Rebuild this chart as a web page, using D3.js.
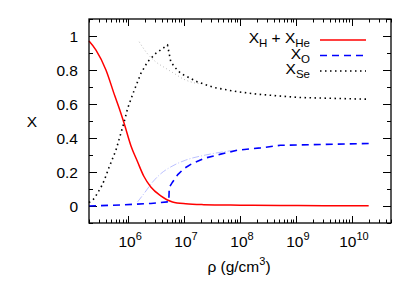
<!DOCTYPE html>
<html>
<head>
<meta charset="utf-8">
<script src="https://cdn.jsdelivr.net/npm/d3@7"></script>
<style>
  body { margin: 0; background: #fff; }
  text { font-family: "Liberation Sans", Arial, sans-serif; fill: #000; }
</style>
</head>
<body>
<div id="chart"></div>
<script>
// values, x given as log10(rho)
const hheLog = [5.301, 5.426, 5.604, 5.765, 5.841, 5.93, 6.05, 6.169, 6.281, 6.406, 6.584, 6.793, 7.03, 7.35, 8.0, 8.72, 9.5, 10.3];
const hheVal = [0.97, 0.917, 0.80, 0.645, 0.575, 0.485, 0.355, 0.26, 0.175, 0.112, 0.06, 0.024, 0.013, 0.008, 0.005, 0.003, 0.002, 0.002];

const oLog = [5.301, 5.87, 6.406, 6.704, 6.727, 6.736, 6.793, 6.888, 7.0, 7.12, 7.356, 7.654, 7.952, 8.367, 8.724, 9.437, 10.3];
const oVal = [0.0, 0.006, 0.015, 0.024, 0.024, 0.11, 0.14, 0.185, 0.22, 0.245, 0.28, 0.305, 0.328, 0.342, 0.357, 0.362, 0.368];

const seLog = [5.301, 5.395, 5.515, 5.574, 5.663, 5.782, 5.93, 5.991, 6.108, 6.139, 6.228, 6.347, 6.495, 6.704, 6.763, 6.852, 6.941, 7.0, 7.239, 7.535, 7.952, 8.308, 8.665, 9.08, 10.3];
const seVal = [0.02, 0.044, 0.11, 0.151, 0.23, 0.328, 0.495, 0.574, 0.68, 0.705, 0.78, 0.848, 0.898, 0.947, 0.848, 0.81, 0.78, 0.77, 0.73, 0.697, 0.672, 0.658, 0.648, 0.638, 0.628];

// faint branches
const oFaintLog = [6.169, 6.3, 6.436, 6.584, 6.763, 7.03, 7.387, 7.832];
const oFaintVal = [0.024, 0.08, 0.14, 0.19, 0.23, 0.27, 0.30, 0.325];
const seFaintLog = [6.198, 6.335, 6.495, 6.674, 6.822, 7.0, 7.12, 7.297];
const seFaintVal = [0.966, 0.90, 0.848, 0.81, 0.78, 0.745, 0.73, 0.718];

const yTicks = [0, 0.2, 0.4, 0.6, 0.8, 1];
const xDecades = [6, 7, 8, 9, 10];

const width = 415, height = 291;
const margin = {left: 89, right: 24, top: 19, bottom: 68};

const svg = d3.select("#chart").append("svg")
    .attr("width", width).attr("height", height);

const x = d3.scaleLog().domain([2e5, 5e10]).range([margin.left, width - margin.right]);
const y = d3.scaleLinear().domain([-0.1, 1.1]).range([height - margin.bottom, margin.top]);

const x0 = margin.left, x1 = width - margin.right;
const y0 = height - margin.bottom, y1 = margin.top;

function toPts(lg, v) {
    return lg.map((d, i) => [Math.pow(10, d), v[i]]);
}

// ticks (gnuplot style, mirrored on all sides)
const ticks = svg.append("g").attr("stroke", "#000").attr("stroke-width", 1);
for (let e = 5; e <= 10; e++) {
    for (let m = 1; m <= 9; m++) {
        const v = m * Math.pow(10, e);
        if (v < 2e5 || v > 5e10) continue;
        const len = m == 1 ? 7 : 3.5;
        const px = Math.round(x(v)) + 0.5;
        ticks.append("line").attr("x1", px).attr("x2", px).attr("y1", y0).attr("y2", y0 - len);
        ticks.append("line").attr("x1", px).attr("x2", px).attr("y1", y1).attr("y2", y1 + len);
    }
}
for (let k = -1; k <= 11; k++) {
    const v = k / 10;
    const len = (k % 2 == 0) ? 8 : 4;
    const py = Math.round(y(v)) + 0.5;
    ticks.append("line").attr("x1", x0).attr("x2", x0 + len).attr("y1", py).attr("y2", py);
    ticks.append("line").attr("x1", x1).attr("x2", x1 - len).attr("y1", py).attr("y2", py);
}

// tick labels
svg.append("g").selectAll("text").data(yTicks).enter().append("text")
    .attr("x", x0 - 11).attr("y", d => y(d) + 5.5)
    .attr("text-anchor", "end").attr("font-size", "15.5px")
    .text(d => d);

const xl = svg.append("g").selectAll("text").data(xDecades).enter().append("text")
    .attr("x", d => x(Math.pow(10, d)) + 2).attr("y", 247)
    .attr("text-anchor", "middle").attr("font-size", "15.5px");
xl.append("tspan").text("10");
xl.append("tspan").attr("dy", -7).attr("font-size", "11px").text(d => d);

// axis labels
svg.append("text").attr("x", 32).attr("y", 127).attr("text-anchor", "middle")
    .attr("font-size", "15.5px").text("X");
const xt = svg.append("text").attr("x", 239).attr("y", 272).attr("text-anchor", "middle")
    .attr("font-size", "15.5px");
xt.append("tspan").text("ρ (g/cm");
xt.append("tspan").attr("dy", -7).attr("font-size", "11px").text("3");
xt.append("tspan").attr("dy", 7).text(")");

// curves
const line = d3.line().x(d => x(d[0])).y(d => y(d[1]));
const smooth = d3.line().x(d => x(d[0])).y(d => y(d[1])).curve(d3.curveMonotoneX);

svg.append("path").datum(toPts(seFaintLog, seFaintVal))
    .attr("fill", "none").attr("stroke", "#aaa").attr("stroke-width", 0.8)
    .attr("stroke-dasharray", "1,2.5").attr("d", smooth);
svg.append("path").datum(toPts(oFaintLog, oFaintVal))
    .attr("fill", "none").attr("stroke", "#aab0ff").attr("stroke-width", 0.8)
    .attr("stroke-dasharray", "7,2,1,2").attr("d", smooth);

svg.append("path").datum(toPts(hheLog, hheVal))
    .attr("fill", "none").attr("stroke", "#ff0000").attr("stroke-width", 1.5)
    .attr("d", smooth);
svg.append("path").datum(toPts(oLog, oVal))
    .attr("fill", "none").attr("stroke", "#0000ff").attr("stroke-width", 1.6)
    .attr("stroke-dasharray", "7,5").attr("d", line);
svg.append("path").datum(toPts(seLog, seVal))
    .attr("fill", "none").attr("stroke", "#000").attr("stroke-width", 1.6)
    .attr("stroke-dasharray", "1.5,3.5").attr("d", line);

// frame
svg.append("rect").attr("x", x0).attr("y", y1).attr("width", x1 - x0).attr("height", y0 - y1)
    .attr("fill", "none").attr("stroke", "#000").attr("stroke-width", 1.3);

// legend
const legend = [
    {main: "X", parts: [["H", 1], [" + X", 0], ["He", 1]], color: "#ff0000", dash: null, ly: 40},
    {main: "X", parts: [["O", 1]], color: "#0000ff", dash: "7,5", ly: 55.5},
    {main: "X", parts: [["Se", 1]], color: "#000", dash: "1.5,3.5", ly: 71}
];
legend.forEach(function (item) {
    const t = svg.append("text").attr("x", 310).attr("y", item.ly + 3)
        .attr("text-anchor", "end").attr("font-size", "15.5px");
    t.append("tspan").text(item.main);
    let sub = false;
    item.parts.forEach(function (p) {
        const ts = t.append("tspan").text(p[0]);
        if (p[1] && !sub) { ts.attr("dy", 4).attr("font-size", "11.5px"); sub = true; }
        else if (!p[1] && sub) { ts.attr("dy", -4); sub = false; }
        else if (p[1]) ts.attr("font-size", "11.5px");
    });
    svg.append("line").attr("x1", 320).attr("x2", 366).attr("y1", item.ly).attr("y2", item.ly)
        .attr("stroke", item.color).attr("stroke-width", 1.6)
        .attr("stroke-dasharray", item.dash);
});
</script>
</body>
</html>
